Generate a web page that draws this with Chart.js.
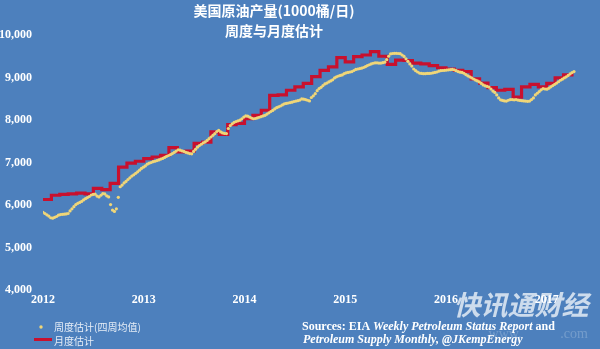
<!DOCTYPE html>
<html>
<head>
<meta charset="utf-8">
<script src="https://cdn.jsdelivr.net/npm/chart.js@4"></script>
<style>
  html, body { margin: 0; padding: 0; background: #4d80bd; }
</style>
</head>
<body>
<canvas id="myChart" width="600" height="349"></canvas>
<script>
const startYear = 2012;
const yearTicks = [2012, 2013, 2014, 2015, 2016, 2017];
const valueTicks = [4000, 5000, 6000, 7000, 8000, 9000, 10000];
const titleLines = ["美国原油产量(1000桶/日)", "周度与月度估计"];
const seriesNames = ["周度估计(四周均值)", "月度估计"];

// monthly estimate, Jan 2012 -> Apr 2017
const monthly2012 = [6130, 6230, 6250, 6260, 6280, 6260, 6390, 6360, 6510, 6890, 6985, 7030];
const monthly2013 = [7090, 7130, 7170, 7350, 7250, 7270, 7450, 7480, 7720, 7660, 7890, 7920];
const monthly2014 = [8030, 8110, 8230, 8580, 8590, 8700, 8780, 8860, 9020, 9170, 9250, 9470];
const monthly2015 = [9370, 9490, 9530, 9610, 9500, 9310, 9410, 9400, 9340, 9320, 9280, 9230];
const monthly2016 = [9200, 9170, 9140, 8970, 8870, 8760, 8700, 8720, 8540, 8780, 8840, 8780];
const monthly2017 = [8860, 8990, 9060, 9110];

// weekly estimate (4 week average), one value per week from early Jan 2012
const weekly2012 = [5830, 5800, 5770, 5740, 5700, 5690, 5710, 5730, 5760, 5775,
  5780, 5785, 5790, 5800, 5860, 5910, 5960, 6010, 6040, 6060,
  6085, 6120, 6150, 6175, 6200, 6235, 6250, 6255, 6210, 6190,
  6230, 6270, 6260, 6215, 6190, 6010, 5880, 5850, 5910, 6180,
  6430, 6470, 6520, 6555, 6600, 6640, 6680, 6710, 6745, 6780,
  6820, 6860];
const weekly2013 = [6890, 6920, 6960, 6985, 7000, 7020, 7030, 7045, 7060, 7080,
  7095, 7120, 7145, 7165, 7185, 7210, 7240, 7270, 7300, 7290,
  7275, 7260, 7240, 7225, 7210, 7205, 7260, 7310, 7360, 7400,
  7430, 7460, 7485, 7520, 7560, 7600, 7640, 7680, 7730, 7756,
  7720, 7695, 7685, 7680, 7800, 7870, 7910, 7945, 7965, 7980,
  7995, 8030];
const weekly2014 = [8070, 8095, 8090, 8070, 8045, 8030, 8035, 8050, 8065, 8080,
  8095, 8110, 8140, 8170, 8200, 8225, 8260, 8290, 8310, 8330,
  8355, 8380, 8390, 8400, 8410, 8420, 8435, 8445, 8455, 8470,
  8495, 8490, 8480, 8465, 8450, 8530, 8570, 8620, 8690, 8740,
  8770, 8810, 8850, 8870, 8895, 8920, 8945, 8990, 9015, 9035,
  9050, 9060];
const weekly2015 = [9090, 9110, 9120, 9130, 9140, 9165, 9190, 9200, 9210, 9220,
  9235, 9255, 9280, 9300, 9320, 9335, 9345, 9345, 9340, 9340,
  9350, 9360, 9420, 9500, 9555, 9565, 9570, 9570, 9565, 9560,
  9530, 9495, 9440, 9380, 9320, 9270, 9200, 9160, 9130, 9105,
  9095, 9090, 9090, 9095, 9095, 9100, 9110, 9120, 9130, 9150,
  9160, 9165];
const weekly2016 = [9170, 9175, 9180, 9185, 9190, 9180, 9160, 9140, 9125, 9120,
  9100, 9070, 9040, 9015, 8990, 8965, 8940, 8920, 8895, 8860,
  8825, 8805, 8790, 8775, 8730, 8680, 8650, 8590, 8520, 8475,
  8460, 8450, 8445, 8465, 8480, 8480, 8475, 8480, 8470, 8460,
  8455, 8450, 8445, 8440, 8445, 8480, 8520, 8590, 8630, 8670,
  8710, 8740];
const weekly2017 = [8730, 8725, 8750, 8780, 8810, 8840, 8870, 8900, 8935, 8960,
  8990, 9015, 9050, 9085, 9115, 9140];

const bgBlue = "#4d80bd";
const yellow = "#f0d678";
const red = "#c8102e";

const monthly = [].concat(monthly2012, monthly2013, monthly2014, monthly2015, monthly2016, monthly2017);
const weekly = [].concat(weekly2012, weekly2013, weekly2014, weekly2015, weekly2016, weekly2017);

const monthlyPoints = monthly.map((v, i) => ({ x: startYear + i / 12, y: v }));
const weeklyPoints = weekly.map((v, i) => ({ x: startYear + (i * 7) / 365.25, y: v }));

const serif = "'Liberation Serif', 'DejaVu Serif', serif";
const cjk = "'Noto Sans CJK SC', 'Noto Sans', sans-serif";

const decorations = {
  id: "decorations",
  beforeDraw(chart) {
    const c = chart.ctx;
    c.save();
    c.fillStyle = bgBlue;
    c.fillRect(0, 0, chart.width, chart.height);
    // watermark sits under the axis labels
    c.textAlign = "center";
    c.textBaseline = "middle";
    c.font = "italic bold 27px " + cjk;
    c.fillStyle = "rgba(255,255,255,0.72)";
    c.fillText("快讯通财经", 521, 305);
    c.font = "14px " + serif;
    c.fillStyle = "rgba(255,255,255,0.22)";
    c.fillText("www.", 505, 334);
    c.fillText(".com", 574, 334);
    c.restore();
  },
  afterDraw(chart) {
    const c = chart.ctx;
    c.save();
    c.fillStyle = "#ffffff";
    c.textAlign = "center";
    c.textBaseline = "middle";
    c.font = "bold 14px " + cjk;
    c.fillText(titleLines[0], 274, 11);
    c.fillText(titleLines[1], 274, 31);

    // legend
    c.textAlign = "left";
    c.font = "10px " + cjk;
    c.fillStyle = yellow;
    c.beginPath();
    c.arc(41, 327, 1.7, 0, Math.PI * 2);
    c.fill();
    c.fillStyle = "#e6edf7";
    c.fillText(seriesNames[0], 54, 327);
    c.strokeStyle = red;
    c.lineWidth = 3;
    c.beginPath();
    c.moveTo(34, 339.5);
    c.lineTo(52, 339.5);
    c.stroke();
    c.fillText(seriesNames[1], 54, 341);

    // sources
    c.fillStyle = "#ffffff";
    const lines = [
      [["Sources: EIA ", false], ["Weekly Petroleum Status Report", true], [" and", false]],
      [["Petroleum Supply Monthly, @JKempEnergy", true]],
    ];
    const starts = [[302, 327], [303, 340]];
    lines.forEach((parts, li) => {
      let x = starts[li][0];
      parts.forEach(([txt, it]) => {
        c.font = (it ? "italic " : "") + "bold 12px " + serif;
        c.fillText(txt, x, starts[li][1]);
        x += c.measureText(txt).width;
      });
    });
    c.restore();
  },
};

const ctx = document.getElementById("myChart").getContext("2d");

const chart = new Chart(ctx, {
  type: "scatter",
  data: {
    datasets: [
      {
        label: seriesNames[0],
        data: weeklyPoints,
        showLine: false,
        pointRadius: 1.6,
        pointBorderWidth: 0,
        pointBackgroundColor: yellow,
        pointBorderColor: yellow,
      },
      {
        label: seriesNames[1],
        data: monthlyPoints,
        showLine: true,
        stepped: true,
        borderColor: red,
        borderWidth: 3.2,
        pointRadius: 0,
      },
    ],
  },
  options: {
    responsive: false,
    animation: false,
    events: [],
    layout: { padding: { top: 35, right: 18, bottom: 39, left: 0 } },
    plugins: {
      legend: { display: false },
      tooltip: { enabled: false },
    },
    scales: {
      x: {
        type: "linear",
        min: 2012,
        max: 2017.35,
        grid: { display: false, drawTicks: false },
        border: { display: false },
        afterFit: (s) => { s.height = 20; },
        afterBuildTicks: (s) => { s.ticks = yearTicks.map((v) => ({ value: v })); },
        ticks: {
          padding: 3,
          maxRotation: 0,
          autoSkip: false,
          color: "#ffffff",
          font: { family: serif, size: 12, weight: "bold" },
          callback: (v) => String(v),
        },
      },
      y: {
        min: 4000,
        max: 10000,
        grid: { display: false, drawTicks: false },
        border: { display: false },
        afterFit: (s) => { s.width = 43; },
        afterBuildTicks: (s) => { s.ticks = valueTicks.map((v) => ({ value: v })); },
        ticks: {
          padding: 11,
          color: "#ffffff",
          font: { family: serif, size: 12, weight: "bold" },
          callback: (v) => v.toLocaleString("en-US"),
        },
      },
    },
  },
  plugins: [decorations],
});
</script>
</body>
</html>
